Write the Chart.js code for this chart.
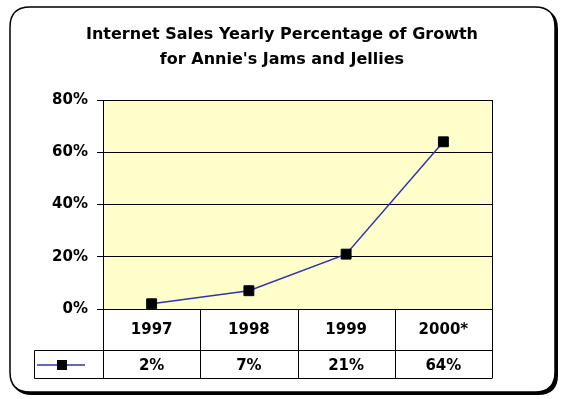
<!DOCTYPE html>
<html lang="en">
<head>
    <meta charset="UTF-8">
    <title>Internet Sales Yearly Percentage of Growth</title>
    <script src="https://cdn.jsdelivr.net/npm/chart.js"></script>
    <style>
        body { margin: 0; background: #fff; }
    </style>
</head>
<body>
    <canvas id="growthChart" width="564" height="399"></canvas>

    <script>
        // data
        const years = ['1997', '1998', '1999', '2000*'];
        const growth = [0.02, 0.07, 0.21, 0.64];
        const yTicks = [0, 0.2, 0.4, 0.6, 0.8];
        const titleLines = ['Internet Sales Yearly Percentage of Growth', "for Annie's Jams and Jellies"];

        const pct = v => Math.round(v * 100) + '%';
        const boldFont = size => 'bold ' + size + 'px "DejaVu Sans", Arial, sans-serif';

        function roundRect(ctx, x, y, w, h, r) {
            ctx.beginPath();
            ctx.moveTo(x + r, y);
            ctx.lineTo(x + w - r, y);
            ctx.quadraticCurveTo(x + w, y, x + w, y + r);
            ctx.lineTo(x + w, y + h - r);
            ctx.quadraticCurveTo(x + w, y + h, x + w - r, y + h);
            ctx.lineTo(x + r, y + h);
            ctx.quadraticCurveTo(x, y + h, x, y + h - r);
            ctx.lineTo(x, y + r);
            ctx.quadraticCurveTo(x, y, x + r, y);
            ctx.closePath();
        }

        // frame, title, plot background
        const frame = {
            id: 'frame',
            beforeDraw(chart) {
                const ctx = chart.ctx;
                const a = chart.chartArea;
                ctx.save();
                ctx.fillStyle = '#fff';
                ctx.fillRect(0, 0, chart.width, chart.height);
                ctx.fillStyle = '#000';
                roundRect(ctx, 12, 9, 546, 386, 20);
                ctx.fill();
                ctx.fillStyle = '#fff';
                ctx.strokeStyle = '#000';
                ctx.lineWidth = 1.5;
                roundRect(ctx, 10, 7, 545, 385, 20);
                ctx.fill();
                ctx.stroke();

                ctx.fillStyle = '#000';
                ctx.font = boldFont(16);
                ctx.textAlign = 'center';
                ctx.textBaseline = 'middle';
                ctx.fillText(titleLines[0], 282, 35);
                ctx.fillText(titleLines[1], 282, 60);

                ctx.fillStyle = '#FFFFCC';
                ctx.fillRect(a.left, a.top, a.right - a.left, a.bottom - a.top);
                ctx.restore();
            },
            afterDraw(chart) {
                const ctx = chart.ctx;
                const a = chart.chartArea;
                const x = chart.scales.x;
                const half = (x.getPixelForValue(1) - x.getPixelForValue(0)) / 2;
                const row1 = a.bottom + 41;
                const row2 = row1 + 28;
                const legLeft = 34;

                ctx.save();
                ctx.strokeStyle = '#000';
                ctx.lineWidth = 1;
                ctx.strokeRect(a.left + 0.5, a.top + 0.5, a.right - a.left, a.bottom - a.top);

                // data table grid
                ctx.beginPath();
                ctx.moveTo(a.left + 0.5, a.bottom);
                ctx.lineTo(a.left + 0.5, row2 + 0.5);
                ctx.moveTo(legLeft + 0.5, row1 + 0.5);
                ctx.lineTo(a.right + 0.5, row1 + 0.5);
                ctx.moveTo(legLeft + 0.5, row1 + 0.5);
                ctx.lineTo(legLeft + 0.5, row2 + 0.5);
                ctx.lineTo(a.right + 0.5, row2 + 0.5);
                years.forEach((y, i) => {
                    const edge = Math.round(x.getPixelForValue(i) + half) + 0.5;
                    ctx.moveTo(edge, a.bottom);
                    ctx.lineTo(edge, row2);
                });
                ctx.stroke();

                ctx.fillStyle = '#000';
                ctx.font = boldFont(15);
                ctx.textAlign = 'center';
                ctx.textBaseline = 'middle';
                years.forEach((y, i) => {
                    const cx = x.getPixelForValue(i);
                    ctx.fillText(y, cx, (a.bottom + row1) / 2 + 1);
                    ctx.fillText(pct(growth[i]), cx, (row1 + row2) / 2 + 2);
                });

                // legend key
                const ky = (row1 + row2) / 2 + 1;
                ctx.strokeStyle = '#3333aa';
                ctx.lineWidth = 1.5;
                ctx.beginPath();
                ctx.moveTo(37, ky);
                ctx.lineTo(85, ky);
                ctx.stroke();
                ctx.fillStyle = '#000';
                ctx.fillRect(57, ky - 5, 10, 10);
                ctx.restore();
            }
        };

        new Chart(document.getElementById('growthChart'), {
            type: 'line',
            data: {
                labels: years,
                datasets: [{
                    label: 'Growth',
                    data: growth,
                    borderColor: '#3333aa',
                    borderWidth: 1.5,
                    pointStyle: 'rect',
                    pointRadius: 7,
                    pointBackgroundColor: '#000',
                    pointBorderColor: '#000',
                    pointBorderWidth: 1,
                    tension: 0
                }]
            },
            options: {
                responsive: false,
                animation: false,
                layout: { padding: { left: 30, right: 72, top: 100, bottom: 90 } },
                plugins: {
                    legend: { display: false },
                    title: { display: false },
                    tooltip: { enabled: false }
                },
                scales: {
                    x: {
                        display: false,
                        offset: true
                    },
                    y: {
                        min: 0,
                        max: 0.8,
                        afterFit: s => { s.width = 73; },
                        afterBuildTicks: s => { s.ticks = yTicks.map(v => ({ value: v })); },
                        grid: { color: '#000', lineWidth: 1, tickLength: 6 },
                        border: { color: '#000' },
                        ticks: {
                            padding: 9,
                            color: '#000',
                            font: { family: '"DejaVu Sans", Arial, sans-serif', size: 15, weight: 'bold' },
                            callback: v => pct(v)
                        }
                    }
                }
            },
            plugins: [frame]
        });
    </script>
</body>
</html>
